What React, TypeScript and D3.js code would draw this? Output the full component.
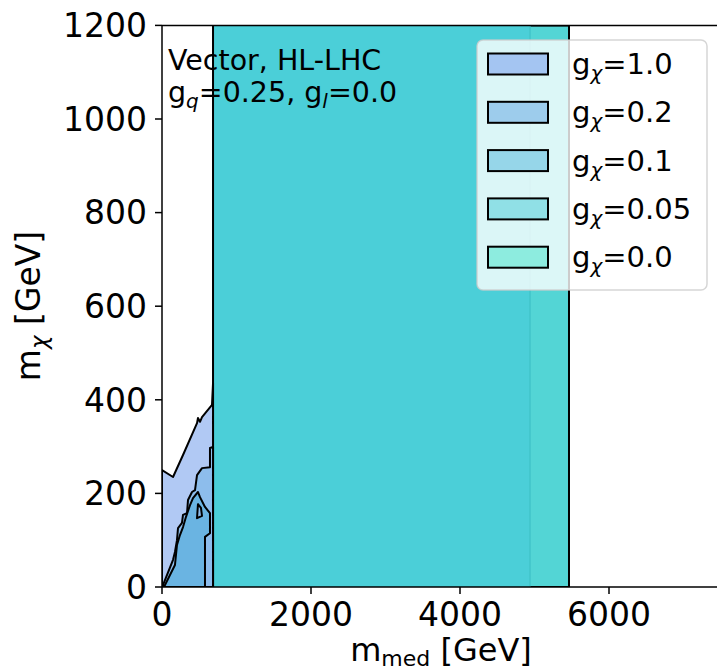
import React from "react";
import * as d3 from "d3";

// ---- data (m_med, m_chi) in GeV ----
const xTicks = [0, 2000, 4000, 6000];
const yTicks = [0, 200, 400, 600, 800, 1000, 1200];

const regionG10: [number, number][] = [
  [0, 0], [0, 250], [148, 235], [282, 282], [470, 350], [483, 361], [510, 353],
  [537, 363], [671, 389], [685, 436], [685, 0],
];
const regionG02: [number, number][] = [
  [13, 0], [13, 4], [148, 58], [174, 75], [201, 100], [215, 126], [268, 137],
  [282, 154], [336, 158], [349, 186], [403, 203], [443, 207], [470, 239],
  [537, 254], [644, 256], [644, 297], [685, 299], [685, 0],
];
const regionG01: [number, number][] = [
  [27, 0], [174, 47], [201, 90], [241, 111], [282, 128], [322, 150], [376, 175],
  [416, 190], [483, 203], [510, 192], [577, 171], [644, 158], [644, 115],
  [577, 107], [577, 0],
];
const islandG01: [number, number][] = [
  [483, 177], [470, 147], [537, 152], [523, 169],
];
const regionG00: [number, number][] = [
  [685, 0], [685, 1200], [5463, 1200], [5463, 0],
];
const regionG005: [number, number][] = [
  [685, 0], [685, 1200], [4940, 1200], [4940, 0],
];

const legendLabels = ["1.0", "0.2", "0.1", "0.05", "0.0"];
const legendColors = ["#a4c5f2", "#9dccec", "#96d6e9", "#90e0e6", "#8decdf"];

const FONT = "DejaVu Sans, sans-serif";

export default function App() {
  const x = d3.scaleLinear().domain([0, 7500]).range([162, 720.75]);
  const y = d3.scaleLinear().domain([0, 1200]).range([587, 25.4]);
  const line = d3
    .line<[number, number]>()
    .x((d) => x(d[0]))
    .y((d) => y(d[1]));
  const poly = (pts: [number, number][]) => line(pts)! + "Z";

  const x0 = x(0);
  const y0 = y(0);
  const yTop = y(1200);

  return (
    <svg width={717} height={672} style={{ position: "absolute", left: 0, top: 0 }}>
      <rect x={0} y={0} width={717} height={672} fill="#ffffff" />
      <defs>
        <clipPath id="plotclip">
          <rect x={x0} y={yTop} width={720.75 - x0} height={y0 - yTop} />
        </clipPath>
      </defs>
      <g clipPath="url(#plotclip)">
        <path d={poly(regionG00)} fill="#53d5d5" stroke="#000" strokeWidth={2} />
        <path d={poly(regionG005)} fill="#4bcfd8" stroke="#42c4ca" strokeWidth={1.5} />
        <line x1={x(685)} x2={x(685)} y1={y(0)} y2={y(1200)} stroke="#000" strokeWidth={2} />
        <path d={poly(regionG10)} fill="#b1c9f4" stroke="#000" strokeWidth={2} strokeLinejoin="round" />
        <path d={poly(regionG02)} fill="#8dbdec" stroke="#000" strokeWidth={2} strokeLinejoin="round" />
        <path d={poly(regionG01)} fill="#6ab4e2" stroke="#000" strokeWidth={2} strokeLinejoin="round" />
        <path d={poly(islandG01)} fill="#8dbdec" stroke="#000" strokeWidth={2} strokeLinejoin="round" />
      </g>

      {/* spines */}
      <line x1={x0} x2={x0} y1={yTop} y2={y0} stroke="#000" strokeWidth={1.5} />
      <line x1={x0} x2={717} y1={y0} y2={y0} stroke="#000" strokeWidth={1.5} />
      <line x1={x0} x2={717} y1={yTop} y2={yTop} stroke="#000" strokeWidth={1.5} />

      {/* ticks */}
      {xTicks.map((t) => (
        <g key={"x" + t}>
          <line x1={x(t)} x2={x(t)} y1={y0} y2={y0 + 7} stroke="#000" strokeWidth={1.5} />
          <text x={x(t)} y={626} textAnchor="middle" fontFamily={FONT} fontSize={33}>
            {t}
          </text>
        </g>
      ))}
      {yTicks.map((t) => (
        <g key={"y" + t}>
          <line x1={x0 - 7} x2={x0} y1={y(t)} y2={y(t)} stroke="#000" strokeWidth={1.5} />
          <text x={147} y={y(t)} dy="0.36em" textAnchor="end" fontFamily={FONT} fontSize={33}>
            {t}
          </text>
        </g>
      ))}

      {/* axis labels */}
      <text x={441} y={661} textAnchor="middle" fontFamily={FONT} fontSize={32}>
        m<tspan fontSize={22} dy={5}>med</tspan>
        <tspan dy={-5}> [GeV]</tspan>
      </text>
      <text
        transform={`translate(40,306) rotate(-90)`}
        textAnchor="middle"
        fontFamily={FONT}
        fontSize={33}
      >
        m<tspan fontSize={23} dy={7} fontStyle="italic">χ</tspan>
        <tspan dy={-7}> [GeV]</tspan>
      </text>

      {/* annotation */}
      <text x={168} y={70} fontFamily={FONT} fontSize={28.5}>
        Vector, HL-LHC
      </text>
      <text x={168} y={102} fontFamily={FONT} fontSize={28.5}>
        g<tspan fontSize={20} dy={6} fontStyle="italic">q</tspan>
        <tspan dy={-6}>=0.25, g</tspan>
        <tspan fontSize={20} dy={6} fontStyle="italic">l</tspan>
        <tspan dy={-6}>=0.0</tspan>
      </text>

      {/* legend */}
      <rect
        x={477}
        y={40}
        width={230}
        height={250}
        rx={6}
        fill="#ffffff"
        fillOpacity={0.8}
        stroke="#cccccc"
        strokeOpacity={0.8}
        strokeWidth={1.5}
      />
      {legendLabels.map((lab, i) => {
        const cy = 64 + i * 48.3;
        return (
          <g key={lab}>
            <rect x={488} y={cy - 10.5} width={60} height={21} fill={legendColors[i]} stroke="#000" strokeWidth={2} />
            <text x={572} y={cy + 10} fontFamily={FONT} fontSize={29}>
              g<tspan fontSize={20} dy={6} fontStyle="italic">χ</tspan>
              <tspan dy={-6}>={lab}</tspan>
            </text>
          </g>
        );
      })}
    </svg>
  );
}
